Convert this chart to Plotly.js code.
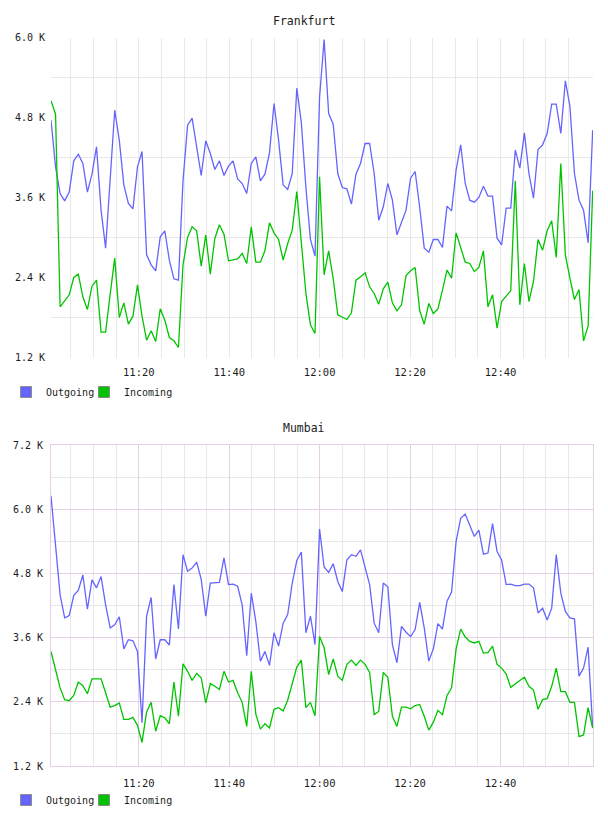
<!DOCTYPE html>
<html>
<head>
<meta charset="utf-8">
<script src="https://cdn.plot.ly/plotly-3.0.1.min.js"></script>
<style>
  html, body { margin: 0; padding: 0; background: #ffffff; }
  #chart { width: 608px; height: 816px; }
</style>
</head>
<body>
<div id="chart"></div>
<script>
// Sampling grid shared by both sites (one sample roughly every minute)
const SAMPLE_START_MS = Date.UTC(2013, 0, 1, 11, 0, 35);
const SAMPLE_STEP_MS = 60400;
const X_RANGE_MS = [SAMPLE_START_MS, Date.UTC(2013, 0, 1, 13, 0, 27)];

// Traffic in thousands (K)
const frankfurtOutgoing = [
  4.76,4.06,3.66,3.55,3.68,4.15,4.25,4.11,3.68,3.95,
  4.36,3.41,2.84,3.90,4.91,4.46,3.79,3.51,3.43,4.06,
  4.29,2.74,2.59,2.50,3.01,3.10,2.66,2.38,2.36,3.85,
  4.68,4.79,4.36,3.93,4.45,4.26,4.02,4.15,3.93,4.07,
  4.15,3.88,3.81,3.66,4.11,4.21,3.85,3.95,4.27,5.01,
  4.46,3.79,3.72,3.96,5.24,4.72,3.75,2.97,2.72,5.10,
  5.97,4.86,4.70,3.96,3.75,3.73,3.50,3.95,4.11,4.41,
  4.41,3.96,3.26,3.46,3.81,3.56,3.04,3.22,3.41,3.89,
  3.99,3.45,2.84,2.78,2.97,2.97,2.85,3.47,3.40,4.01,
  4.39,3.81,3.56,3.53,3.60,3.77,3.62,3.62,2.99,2.89,
  3.44,3.44,4.31,4.04,4.57,3.96,3.59,4.32,4.39,4.56,
  5.00,5.00,4.56,5.35,4.97,3.96,3.56,3.41,2.92,4.61
];
const frankfurtIncoming = [
  5.05,4.85,1.96,2.05,2.14,2.40,2.45,2.11,1.92,2.27,
  2.36,1.58,1.58,2.15,2.69,1.80,2.02,1.70,1.82,2.29,
  1.82,1.46,1.60,1.44,1.93,1.76,1.50,1.45,1.35,2.59,
  3.00,3.16,3.10,2.57,3.04,2.45,2.99,3.19,3.05,2.65,
  2.66,2.68,2.76,2.61,3.16,2.63,2.63,2.80,3.22,3.07,
  2.97,2.66,2.91,3.11,3.69,2.96,2.16,1.69,1.56,3.91,
  2.44,2.80,2.38,1.84,1.80,1.77,1.87,2.36,2.41,2.47,
  2.26,2.16,2.00,2.23,2.33,2.02,1.90,1.99,2.43,2.50,
  2.55,1.90,1.70,2.01,1.86,1.93,2.21,2.51,2.39,3.07,
  2.85,2.63,2.61,2.49,2.55,2.80,1.96,2.14,1.64,2.04,
  2.12,2.20,3.85,1.99,2.61,2.04,2.34,2.97,2.81,3.10,
  3.25,2.70,4.11,2.74,2.39,2.07,2.22,1.45,1.67,3.70
];
const mumbaiOutgoing = [
  6.25,5.30,4.40,3.97,4.01,4.39,4.48,4.77,4.13,4.68,
  4.53,4.74,4.21,3.78,3.84,3.99,3.39,3.56,3.54,3.34,
  2.01,4.00,4.35,3.20,3.56,3.56,3.46,4.59,3.76,5.15,
  4.84,4.90,5.01,4.69,4.00,4.62,4.62,4.63,5.09,4.59,
  4.60,4.56,4.21,3.26,4.43,3.90,3.16,3.34,3.08,3.69,
  3.44,3.87,4.03,4.62,5.04,5.20,3.69,4.00,3.47,5.63,
  4.92,4.82,4.98,4.65,4.46,5.05,5.15,5.12,5.24,4.93,
  4.59,3.87,3.69,4.62,4.55,3.47,3.13,3.81,3.70,3.62,
  3.75,4.26,3.78,3.16,3.39,3.86,3.76,4.28,4.45,5.40,
  5.83,5.91,5.68,5.49,5.61,5.16,5.18,5.73,5.21,5.05,
  4.59,4.60,4.57,4.57,4.60,4.60,4.53,4.06,4.15,3.93,
  4.15,5.15,4.43,4.09,3.97,3.95,2.88,3.03,3.42,1.91
];
const mumbaiIncoming = [
  3.34,3.00,2.66,2.44,2.42,2.52,2.77,2.70,2.55,2.83,
  2.83,2.83,2.57,2.30,2.33,2.38,2.07,2.07,2.11,1.96,
  1.64,2.21,2.39,1.85,2.14,2.10,1.99,2.77,2.13,3.11,
  2.97,2.80,2.93,2.85,2.38,2.74,2.69,2.63,2.97,2.77,
  2.80,2.57,2.39,1.94,2.97,2.17,1.89,1.99,1.91,2.26,
  2.29,2.23,2.43,2.75,3.05,3.18,2.29,2.39,2.14,3.62,
  3.41,2.91,3.20,2.88,2.80,3.10,3.18,3.08,3.18,3.10,
  2.95,2.16,2.22,2.95,2.86,2.13,1.94,2.30,2.30,2.27,
  2.33,2.35,2.13,1.87,2.02,2.24,2.16,2.52,2.66,3.39,
  3.76,3.61,3.53,3.50,3.53,3.31,3.32,3.44,3.10,3.03,
  2.92,2.67,2.74,2.80,2.86,2.69,2.62,2.26,2.44,2.46,
  2.69,3.03,2.59,2.59,2.39,2.39,1.75,1.78,2.29,1.91
];

const seriesNames = ['Outgoing', 'Incoming'];
const timeTicks = ['11:20', '11:40', '12:00', '12:20', '12:40'];
const frankfurtTicks = [1.2, 2.4, 3.6, 4.8, 6.0];
const frankfurtMinorTicks = [1.8, 3.0, 4.2, 5.4];
const mumbaiTicks = [1.2, 2.4, 3.6, 4.8, 6.0, 7.2];
const mumbaiMinorTicks = [1.8, 3.0, 4.2, 5.4, 6.6];

const BLUE = '#6464ff';
const GREEN = '#00c400';
const GRID = '#e8e8e8';
const PINK = '#e4cfe4';
const FONT = 'DejaVu Sans Mono, monospace';
const TEXT = '#1c1c1c';

const times = frankfurtOutgoing.map((_, i) => SAMPLE_START_MS + i * SAMPLE_STEP_MS);
const clock = (h, m) => Date.UTC(2013, 0, 1, h, m, 0);
const timeTickVals = timeTicks.map(t => {
  const [h, m] = t.split(':').map(Number);
  return clock(h, m);
});
// five-minute grid from 11:05 to 12:55
const fiveMinuteGrid = [];
for (let m = 5; m <= 115; m += 5) fiveMinuteGrid.push(clock(11, 0) + m * 60000);

function line(y, color, xa, ya) {
  return {
    type: 'scatter', mode: 'lines', x: times, y: y,
    xaxis: xa, yaxis: ya, showlegend: false, hoverinfo: 'skip',
    line: { color: color, width: 1.3 }
  };
}
function legendKey(name, color, xa, ya, legendId) {
  return {
    type: 'scatter', mode: 'markers', x: [null], y: [null],
    xaxis: xa, yaxis: ya, name: name, legend: legendId, hoverinfo: 'skip',
    marker: { symbol: 'square', size: 11, color: color, line: { color: '#8c8c8c', width: 1 } }
  };
}

const traces = [
  line(frankfurtOutgoing, BLUE, 'x', 'y'),
  line(frankfurtIncoming, GREEN, 'x', 'y'),
  line(mumbaiOutgoing, BLUE, 'x2', 'y2'),
  line(mumbaiIncoming, GREEN, 'x2', 'y2'),
  legendKey(seriesNames[0], BLUE, 'x', 'y', 'legend'),
  legendKey(seriesNames[1], GREEN, 'x', 'y', 'legend2'),
  legendKey(seriesNames[0], BLUE, 'x2', 'y2', 'legend3'),
  legendKey(seriesNames[1], GREEN, 'x2', 'y2', 'legend4')
];

function timeAxis(anchor, majorColor, boxed) {
  return {
    anchor: anchor, domain: [0, 1], type: 'date', range: X_RANGE_MS,
    tickmode: 'array', tickvals: timeTickVals, ticktext: timeTicks,
    ticks: '', ticklabelstandoff: 7,
    tickfont: { family: FONT, size: 10.5, color: TEXT },
    showgrid: true, gridcolor: majorColor, gridwidth: 1,
    minor: { tickmode: 'array', tickvals: fiveMinuteGrid, showgrid: true, gridcolor: GRID, gridwidth: 1 },
    zeroline: false, showline: boxed, mirror: boxed, linecolor: PINK, linewidth: 1,
    automargin: false, fixedrange: true
  };
}
function valueAxis(anchor, domain, range, ticks, minorTicks, majorGrid, boxed) {
  return {
    anchor: anchor, domain: domain, range: range,
    tickmode: 'array', tickvals: ticks, ticktext: ticks.map(v => v.toFixed(1) + ' K'),
    ticks: '', ticklabelstandoff: 5,
    tickfont: { family: FONT, size: 10, color: TEXT },
    showgrid: majorGrid !== null, gridcolor: majorGrid || GRID, gridwidth: 1,
    minor: { tickmode: 'array', tickvals: minorTicks, showgrid: true, gridcolor: GRID, gridwidth: 1 },
    zeroline: false, showline: boxed, mirror: boxed, linecolor: PINK, linewidth: 1,
    automargin: false, fixedrange: true
  };
}
// one legend box per key so each key sits at its own spot under its chart
function legendBox(xPx, yPx) {
  return {
    xref: 'paper', yref: 'paper', x: (xPx - 51) / 542, y: 1 - yPx / 816,
    xanchor: 'left', yanchor: 'middle', orientation: 'h',
    font: { family: FONT, size: 10, color: TEXT },
    bgcolor: 'rgba(0,0,0,0)', borderwidth: 0, itemwidth: 30,
    itemclick: false, itemdoubleclick: false
  };
}
function title(text, yPx) {
  return {
    text: text, xref: 'paper', yref: 'paper', x: (304 - 51) / 542, y: 1 - yPx / 816,
    xanchor: 'center', yanchor: 'middle', showarrow: false,
    font: { family: FONT, size: 11.5, color: TEXT }
  };
}

const layout = {
  width: 608, height: 816,
  margin: { l: 51, r: 15, t: 0, b: 0, pad: 0, autoexpand: false },
  paper_bgcolor: '#ffffff', plot_bgcolor: '#ffffff',
  showlegend: true,
  xaxis: timeAxis('y', GRID, false),
  yaxis: valueAxis('x', [1 - 357.5 / 816, 1 - 37.5 / 816], [1.2, 6.0], frankfurtTicks, frankfurtMinorTicks, null, false),
  xaxis2: timeAxis('y2', PINK, true),
  yaxis2: valueAxis('x2', [1 - 766 / 816, 1 - 445 / 816], [1.2, 7.2], mumbaiTicks, mumbaiMinorTicks, PINK, true),
  legend: legendBox(6, 392),
  legend2: legendBox(84, 392),
  legend3: legendBox(6, 800),
  legend4: legendBox(84, 800),
  annotations: [title('Frankfurt', 20.5), title('Mumbai', 428)]
};

Plotly.newPlot('chart', traces, layout, { displayModeBar: false, responsive: false });
</script>
</body>
</html>
